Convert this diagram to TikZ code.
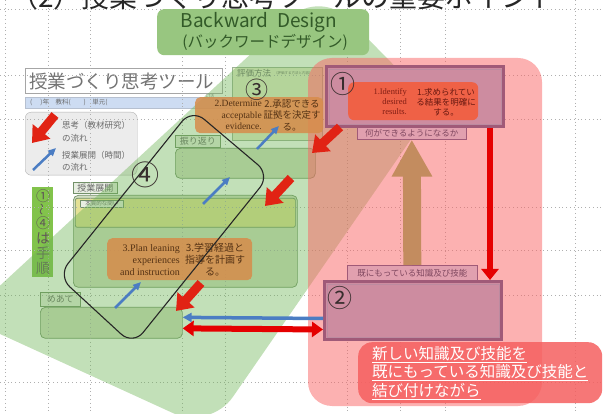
\documentclass[tikz,border=0pt]{standalone}
\usepackage{fontspec}
\setmainfont{Liberation Serif}
\newfontfamily\jp{Noto Sans CJK JP}
\usetikzlibrary{arrows.meta,positioning}

% colours
\definecolor{bandgreen}{RGB}{110,180,85}
\definecolor{bdgreen}{RGB}{152,198,128}
\definecolor{bdtext}{RGB}{50,90,40}
\definecolor{pinkred}{RGB}{250,100,100}
\definecolor{mauve}{RGB}{205,140,160}
\definecolor{mauvedark}{RGB}{160,90,120}
\definecolor{tagmauve}{RGB}{225,160,175}
\definecolor{orangebox}{RGB}{215,140,75}
\definecolor{redorange}{RGB}{245,90,55}
\definecolor{plantext}{RGB}{85,50,20}
\definecolor{goaltext}{RGB}{130,30,20}
\definecolor{thinkred}{RGB}{225,35,20}
\definecolor{flowblue}{RGB}{75,125,195}
\definecolor{tanarrow}{RGB}{195,140,95}
\definecolor{panelfill}{RGB}{210,222,195}
\definecolor{panelline}{RGB}{115,145,105}
\definecolor{tagfill}{RGB}{232,238,226}
\definecolor{askfill}{RGB}{228,225,150}
\definecolor{evalfill}{RGB}{232,236,205}
\definecolor{gridgray}{RGB}{175,175,175}
\definecolor{textgray}{RGB}{105,105,105}
\definecolor{barblue}{RGB}{205,220,242}
\definecolor{stepgreen}{RGB}{130,195,75}
\definecolor{legendfill}{RGB}{236,236,236}
\definecolor{newred}{RGB}{245,95,95}
\definecolor{numtext}{RGB}{55,45,45}

\begin{document}
\begin{tikzpicture}[x=1pt,y=-1pt,
  panel/.style={draw=panelline,fill=panelfill,rounded corners=5pt,line width=0.7pt,anchor=north west,inner sep=0pt},
  tag/.style={draw=panelline,fill=tagfill,line width=0.6pt,anchor=north west,inner sep=0pt,font=\jp\fontsize{9}{9}\selectfont,text=textgray},
  plan/.style={fill=orangebox,fill opacity=0.85,rounded corners=5pt,anchor=north west,inner sep=0pt},
  entext/.style={align=right,font=\fontsize{9.5}{11.5}\selectfont,text=plantext,inner sep=0pt},
  jatext/.style={align=center,font=\jp\fontsize{9.5}{11.5}\selectfont,text=plantext,inner sep=0pt},
  legtext/.style={anchor=west,font=\jp\fontsize{8.5}{8.5}\selectfont,text=textgray,inner sep=0pt},
  num/.style={font=\jp\fontsize{25}{25}\selectfont,text=numtext,inner sep=0pt},
  bevel/.style={draw=mauvedark,line width=3pt,fill=mauve,anchor=north west,inner sep=0pt},
  mtag/.style={draw=mauvedark,fill=tagmauve,line width=0.6pt,anchor=north west,inner sep=0pt,font=\jp\fontsize{8.5}{8.5}\selectfont,text=mauvedark!80!black},
  think/.style={thinkred,line width=9pt,-{Triangle[width=22pt,length=15pt]}},
  flow/.style={flowblue,line width=2.5pt,-{Triangle[width=7pt,length=8pt]}},
  rise/.style={tanarrow,line width=18pt,-{Triangle[width=38pt,length=37pt]}},
  down/.style={red!90!black,line width=6pt,-{Triangle[width=17pt,length=11pt]}},
  grid line/.style={gridgray,line width=0.5pt,dash pattern=on 0.8pt off 3pt}
]
\useasboundingbox (0,0) rectangle (603,414);
\begin{scope}
\clip (0,0) rectangle (603,414);

% title, cut at the top
\node[anchor=base west,font=\jp\fontsize{28}{28}\selectfont,text=black!85,inner sep=0pt] (title) at (10,8) {（2）授業づくり思考ツールの重要ポイント};

% worksheet
\node[draw=gray!70,fill=white,minimum width=197,minimum height=25,anchor=north west,inner sep=0pt] (toolbox) at (25,68) {};
\node[anchor=west,font=\jp\fontsize{18.5}{18.5}\selectfont,text=gray!90!black,inner sep=0pt] (tooltext) at (29,81) {授業づくり思考ツール};
\node[draw=barblue!70!gray,fill=barblue,minimum width=207,minimum height=11,anchor=north west,inner sep=0pt] (bar) at (25,97) {};
\node[anchor=west,font=\jp\fontsize{6.5}{6.5}\selectfont,text=textgray,inner sep=0pt] (bartext) at (30,102.5) {(\quad\ )年\quad 教科(\qquad )\quad 単元(};
\node[font=\jp\fontsize{4}{4}\selectfont,text=gray,inner sep=0pt] (ctnote) at (210,96) {CT活};

% legend
\node[draw=gray!60,fill=legendfill,rounded corners=6pt,minimum width=112,minimum height=63,anchor=north west,inner sep=0pt] (legend) at (25,112) {};
\node[legtext] (lg1) at (62,125) {思考（教材研究）};
\node[legtext] (lg2) at (62,138) {の流れ};
\node[legtext] (lg3) at (62,155) {授業展開（時間）};
\node[legtext] (lg4) at (62,167) {の流れ};

% steps
\node[fill=stepgreen,minimum width=21,minimum height=90,anchor=north west,inner sep=0pt] (steps) at (32,187) {};
\foreach \ch/\yy in {①/196,④/223,は/238,手/253,順/268}
  \node[font=\jp\fontsize{14}{14}\selectfont,text=numtext!80,inner sep=0pt] (seq\yy) at (43,\yy) {\ch};
\node[rotate=90,font=\jp\fontsize{12}{12}\selectfont,text=numtext!80,inner sep=0pt] (seqwave) at (43,210) {〜};

% panels
\node[panel,fill=evalfill,draw=panelline!70,rounded corners=0pt,minimum width=90,minimum height=73] (evalpanel) at (232,67) {};
\node[anchor=west,font=\jp\fontsize{8.5}{8.5}\selectfont,text=textgray,inner sep=0pt] (evaltitle) at (237,73) {評価方法};
\node[anchor=west,font=\jp\fontsize{3.5}{3.5}\selectfont,text=textgray,inner sep=0pt] (evalnote) at (274,73) {（評価する方法と内容）};
\node[tag,minimum width=45,minimum height=12] (furitag) at (175,135) {振り返り};
\node[panel,minimum width=140,minimum height=30] (furi) at (175,148) {};
\node[tag,minimum width=44,minimum height=11] (tenkaitag) at (73,182) {授業展開};
\node[panel,minimum width=224,minimum height=92] (tenkai) at (73,195) {};
\node[panel,fill=askfill,rounded corners=2pt,minimum width=220,minimum height=29] (ask) at (75,198) {};
\node[tag,font=\jp\fontsize{5.5}{5.5}\selectfont,minimum width=43,minimum height=7] (asktag) at (80,200) {本質的な問い};
\node[tag,minimum width=40,minimum height=14] (meatetag) at (40,292) {めあて};
\node[panel,minimum width=142,minimum height=31] (meate) at (40,307) {};

% dotted grid
\foreach \gy in {9,75,119,207,250,295,382}
  \draw[grid line] (0,\gy) -- (603,\gy);
\foreach \gx in {5,48,90,182,225,347,400,445,575}
  \draw[grid line] (\gx,0) -- (\gx,414);

% the two big areas
\fill[bandgreen,fill opacity=0.42,rounded corners=40pt] (320,-10) -- (434,106) -- (210,430) -- (-35,318) -- cycle;
\fill[pinkred,fill opacity=0.5,rounded corners=24pt] (308,58) rectangle (542,406);

% Backward Design
\node[fill=bdgreen,rounded corners=7pt,minimum width=212,minimum height=46,anchor=north west,inner sep=0pt] (bd) at (157,9) {};
\node[font=\jp\fontsize{19}{19}\selectfont,text=bdtext,inner sep=0pt] (bdlabel) at (259,22) {Backward\ \ Design};
\node[font=\jp\fontsize{15.5}{15.5}\selectfont,text=bdtext,inner sep=0pt] (bdkana) at (265,42) {(バックワードデザイン)};

% stage 2
\node[plan,minimum width=128,minimum height=36] (evidence) at (195,97) {};
\node[entext,anchor=east] (evien) at (262,115) {2.Determine\\acceptable\\evidence.};
\node[jatext] (evija) at (292,115) {2.承認できる\\証拠を決定す\\る。};

% stage 1
\node[bevel,minimum width=177,minimum height=60] (goal) at (325,65) {};
\draw[mauvedark!70,line width=0.6pt] ([shift={(4,4)}]goal.north west) rectangle ([shift={(-4,-4)}]goal.south east);
\node[fill=redorange,fill opacity=0.85,rounded corners=6pt,minimum width=130,minimum height=38,anchor=north west,inner sep=0pt] (goalinner) at (348,82) {};
\node[entext,anchor=east,text=goaltext,font=\fontsize{8.5}{10}\selectfont] (goalen) at (407,102) {1.Identify\\desired\\results.};
\node[jatext,text=goaltext!80!black,font=\jp\fontsize{8.5}{10}\selectfont] (goalja) at (446,102) {1.求められてい\\る結果を明確に\\する。};
\node[num] (n1) at (343,84) {①};
\node[mtag,minimum width=109,minimum height=12] (cando) at (357,127) {何ができるようになるか};

% existing knowledge
\node[mtag,minimum width=130,minimum height=15] (known) at (347,265) {既にもっている知識及び技能};
\node[bevel,minimum width=177,minimum height=58] (old) at (323,280) {};
\draw[mauvedark!70,line width=0.6pt] ([shift={(4,4)}]old.north west) rectangle ([shift={(-4,-4)}]old.south east);
\node[num] (n2) at (340,298) {②};

% stage 3
\node[plan,minimum width=145,minimum height=42] (plan3) at (107,238) {};
\node[entext,anchor=east,font=\fontsize{10}{12}\selectfont] (planen) at (180,260) {3.Plan leaning\\experiences\\and instruction};
\node[jatext,font=\jp\fontsize{10}{12}\selectfont] (planja) at (215,260) {3.学習経過と\\指導を計画す\\る。};

% step 4 loop
\draw[line width=1.1pt,rounded corners=16pt,black!85] (192,109) -- (270,175) -- (133,345) -- (58,276) -- cycle;
\node[num,font=\jp\fontsize{28}{28}\selectfont] (n4) at (145,175) {④};
\node[num,font=\jp\fontsize{23}{23}\selectfont] (n3) at (257,90) {③};

% arrows
\draw[rise] (known.north) -- (cando.south);
\draw[down] ([xshift=-15pt]goal.south east) -- ([xshift=-13pt]old.north east);
\draw[flowblue,line width=3.5pt,-{Triangle[width=9pt,length=9pt]}] ([yshift=-8pt]old.west) -- ([yshift=5.5pt]meate.east);
\draw[red!90!black,line width=6pt,{Triangle[width=15pt,length=11pt]}-{Triangle[width=15pt,length=11pt]}] ([yshift=-5.5pt]meate.east) -- ([yshift=-19pt]old.west);

\coordinate (lgred0) at (55,115);
\coordinate (lgred1) at (32,143);
\coordinate (lgblue0) at (33,170);
\coordinate (lgblue1) at (56,148);
\coordinate (th1a) at (340,127);
\coordinate (th1b) at (312,153);
\coordinate (th2a) at (291,178);
\coordinate (th2b) at (265,206);
\coordinate (th3a) at (201,283);
\coordinate (th3b) at (176,311);
\coordinate (fl1a) at (115,308);
\coordinate (fl1b) at (141,282);
\coordinate (fl2a) at (203,204);
\coordinate (fl2b) at (230,177);
\coordinate (fl3a) at (257,149);
\coordinate (fl3b) at (279,126);

\draw[think] (lgred0) -- (lgred1);
\draw[flow] (lgblue0) -- (lgblue1);
\draw[think] (th1a) -- (th1b);
\draw[think] (th2a) -- (th2b);
\draw[think] (th3a) -- (th3b);
\draw[flow] (fl1a) -- (fl1b);
\draw[flow] (fl2a) -- (fl2b);
\draw[flow] (fl3a) -- (fl3b);

% message
\node[fill=newred,fill opacity=0.85,text opacity=1,rounded corners=14pt,minimum width=244,minimum height=61,anchor=north west,inner sep=0pt,text=white,align=left,font=\jp\fontsize{15.5}{18.5}\selectfont] (newk) at (358,342) {\underline{新しい知識及び技能を}\\\underline{既にもっている知識及び技能と}\\\underline{結び付けながら}};
\end{scope}
\end{tikzpicture}
\end{document}
